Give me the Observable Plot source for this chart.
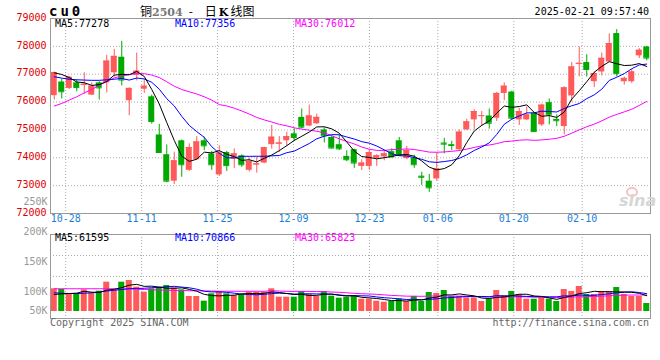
<!DOCTYPE html>
<html><head><meta charset="utf-8">
<script src="https://cdn.jsdelivr.net/npm/d3@7"></script>
<script src="https://cdn.jsdelivr.net/npm/@observablehq/plot@0.6"></script>
<style>
body{margin:0;background:#fff}
#root{position:relative;width:660px;height:360px;background:#fff;overflow:hidden}
.t{position:absolute;white-space:pre;font-family:"DejaVu Sans Mono",monospace;font-size:10px;line-height:12px}
svg{position:absolute;left:0}
</style></head>
<body><div id="root"></div>
<script>
// ---- data ----
const dates = ["10-24","10-25","10-28","10-29","10-30","10-31","11-01","11-04","11-05","11-06","11-07","11-08","11-11","11-12","11-13","11-14","11-15","11-18","11-19","11-20","11-21","11-22","11-25","11-26","11-27","11-28","11-29","12-02","12-03","12-04","12-05","12-06","12-09","12-10","12-11","12-12","12-13","12-16","12-17","12-18","12-19","12-20","12-23","12-24","12-25","12-26","12-27","12-30","12-31","01-02","01-03","01-06","01-07","01-08","01-09","01-10","01-13","01-14","01-15","01-16","01-17","01-20","01-21","01-22","01-23","01-24","01-27","02-05","02-06","02-07","02-10","02-11","02-12","02-13","02-14","02-17","02-18","02-19","02-20","02-21"];
const tickDates = ["10-28","11-11","11-25","12-09","12-23","01-06","01-20","02-10"];
const opens = [76230,76720,76490,76690,76600,76250,76690,76690,77050,77610,76050,76960,76460,76190,74820,74110,73160,74610,73550,73930,74610,74140,73390,74190,73950,74070,73550,73740,73810,74470,74490,74610,74860,75450,75140,75220,75000,74730,74470,74050,74290,73690,73690,73980,74030,74220,74610,73970,73990,73340,73160,73240,74530,74470,74290,75000,75360,75490,75500,75420,76310,76360,75360,75360,75600,75180,75980,75380,75120,76220,77360,77420,76730,77080,77440,78460,76730,76730,77660,77980];
const highs = [77080,76820,76920,76790,77050,76690,76730,77680,77890,78180,76510,77760,76810,76250,75200,74460,74200,74640,74500,74760,74740,74230,74430,74230,74320,74100,73990,74010,74380,75160,74760,74920,75040,75750,75890,75570,75080,74790,74810,74250,74310,73930,74290,74110,74240,74320,74730,74410,74090,73480,73400,74170,74700,74590,75000,75380,75720,75660,75750,76350,76690,76390,75780,75830,75620,75930,76110,75540,76550,77420,77980,77700,77080,77760,78450,78600,76900,77170,77920,78000];
const lows = [76070,76110,76450,76370,76280,76230,76070,76330,76900,76580,75510,76760,76310,75210,74170,73100,73040,73300,73510,73910,74260,73550,73330,73510,73610,73660,73490,73450,73790,74310,74190,74410,74590,75040,75120,75200,74530,74310,74260,73860,73620,73540,73550,73690,73890,74000,74070,73930,73620,73010,72760,73160,74140,74260,74260,74990,75000,75120,75030,75300,76050,75360,75160,75330,74910,75120,75180,75120,74820,76010,76900,76900,76520,76940,77420,76900,76610,76670,77560,77480];
const closes = [77060,76370,76890,76520,76640,76570,76510,77470,77640,76790,76490,77110,76570,75300,74190,73160,73890,73750,74370,74570,74430,73750,74170,73720,74140,73750,73870,73780,74360,74740,74530,74760,74730,75100,75500,75450,74790,74350,74320,73930,73810,73810,74190,74070,74140,74030,74090,74260,73750,73300,72920,73600,74490,74440,74920,75290,75660,75510,75240,76310,76570,75420,75660,75540,74940,75890,75540,75330,76510,77260,77390,77170,77020,77570,78100,77020,76850,77080,77860,77580];
const volumes = [90700,88000,70700,68000,86700,73300,81300,117300,86700,117300,124000,97300,77300,90700,97300,104000,94700,86700,60000,60000,41300,70700,80000,70700,64000,68000,77300,77300,77300,90700,57300,57300,57300,80000,68000,60000,80000,61300,53300,57300,62700,49300,49300,41300,37300,40000,50700,40000,60000,40000,76000,72000,84000,60000,60000,54700,54700,40000,49300,84000,64000,80000,68000,49300,49300,54700,49300,40000,88000,80000,100000,68000,68000,80000,80000,96000,68000,60000,60000,32000];
// moving-average values before enough visible history exists
const ma5Head = [77050,76990,76880,76720];
const ma10Head = [76910,76860,76820,76800,76790,76780,76780,76800,76820];
const ma30Head = [75860,75950,76070,76190,76330,76450,76610,76730,76870,76930,76990,77020,77020,76970,76880,76730,76570,76450,76370,76290,76190,76070,75910,75860,75780,75680,75570,75450,75360];
const vma5Head = [68000,70700,72000,73300];
const vma10Head = [75000,73000,72000,72000,73000,75000,78000,82000,85000];
const vma30Head = [91000,91000,91000,91000,91000,91000,91000,91000,91000,90000,90000,89000,88000,87000,86000,85000,84000,84000,83000,83000,82000,82000,81000,81000,81000,81000,81000,81000,81000];
const priceTicks = [79000,78000,77000,76000,75000,74000,73000,72000];
const volTickValues = [250000,200000,150000,100000];
const volTickLabels = ["250K","200K","150K","100K"];
const volBottomValue = [50000];
const volBottomLabel = ["50K"];
const headerMain = [["MA5:77278","#000"],["MA10:77356","#0000ff"],["MA30:76012","#ff00ff"]];
const headerVol = [["MA5:61595","#000"],["MA10:70866","#0000ff"],["MA30:65823","#ff00ff"]];

// ---- derived ----
const N = closes.length;
function ma(vals, k, head){ return vals.map((v,i)=> i>=k-1 ? d3.mean(vals.slice(i-k+1,i+1)) : head[i]); }
const m5 = ma(closes,5,ma5Head), m10 = ma(closes,10,ma10Head), m30 = ma(closes,30,ma30Head);
const v5 = ma(volumes,5,vma5Head), v10 = ma(volumes,10,vma10Head), v30 = ma(volumes,30,vma30Head);
const data = closes.map((c,i)=>({i, date:dates[i], open:opens[i], high:highs[i], low:lows[i], close:c, vol:volumes[i],
  up:c>=opens[i], m5:m5[i], m10:m10[i], m30:m30[i], v5:v5[i], v10:v10[i], v30:v30[i]}));
// Sina spaces its date grid over N-1 intervals while candles use N slots
const grid = tickDates.map(t=>{const k=dates.indexOf(t); return {x:k*N/(N-1)-0.5, label:t};});

const UP="#ff5a5a", DOWN="#00a800", GRID="#aaa", FRAME="#999";
const MONO="DejaVu Sans Mono";
const col = d=>d.up?UP:DOWN;
const root = document.getElementById("root");

const price = Plot.plot({
  width:660, height:228, marginTop:18, marginBottom:15, marginLeft:50, marginRight:10,
  style:{background:"transparent", overflow:"visible"},
  x:{domain:[-0.5,N-0.5], axis:null},
  y:{domain:[72000,79000], axis:null},
  marks:[
    Plot.ruleY(priceTicks.slice(1,-1), {stroke:GRID, strokeDasharray:"1,2"}),
    Plot.ruleX(grid, {x:"x", stroke:GRID, strokeDasharray:"1,2"}),
    Plot.ruleX(data, {x:"i", y1:"low", y2:"high", stroke:col}),
    Plot.rect(data, {x1:d=>d.i-0.4, x2:d=>d.i+0.4, y1:"open", y2:"close", fill:col}),
    Plot.ruleY(data, {x1:d=>d.i-0.4, x2:d=>d.i+0.4, y:"close", stroke:col}),
    Plot.line(data, {x:"i", y:"m30", stroke:"#ff00ff", strokeWidth:1}),
    Plot.line(data, {x:"i", y:"m10", stroke:"#0000ff", strokeWidth:1}),
    Plot.line(data, {x:"i", y:"m5", stroke:"#000", strokeWidth:1}),
    Plot.frame({stroke:FRAME}),
    Plot.text(priceTicks, {y:d=>d, text:d=>String(d), frameAnchor:"left", textAnchor:"end", dx:-4, dy:-1, fill:"#dd0000", fontSize:10, fontFamily:MONO}),
    Plot.text(grid, {x:"x", text:"label", frameAnchor:"bottom", dy:8, fill:"#1c7fd6", fontSize:10, fontFamily:MONO})
  ]
});
price.style.top="0px";
root.appendChild(price);

const volume = Plot.plot({
  width:660, height:92, marginTop:6, marginBottom:2, marginLeft:50, marginRight:10,
  style:{background:"transparent", overflow:"visible"},
  x:{domain:[-0.5,N-0.5], axis:null},
  y:{domain:[-28000,308000], axis:null},
  marks:[
    Plot.ruleY([224000,140000], {stroke:GRID, strokeDasharray:"1,2"}),
    Plot.ruleX(grid, {x:"x", stroke:GRID, strokeDasharray:"1,2"}),
    Plot.rect(data, {x1:d=>d.i-0.4, x2:d=>d.i+0.4, y1:0, y2:"vol", fill:col}),
    Plot.line(data, {x:"i", y:"v30", stroke:"#ff00ff", strokeWidth:1}),
    Plot.line(data, {x:"i", y:"v10", stroke:"#0000ff", strokeWidth:1}),
    Plot.line(data, {x:"i", y:"v5", stroke:"#000", strokeWidth:1}),
    Plot.frame({stroke:FRAME})
  ]
});
volume.style.top="228px";
root.appendChild(volume);

// Sina's volume labels follow their own even spacing; the lowest one is lifted to stay inside the panel
const volAxis = Plot.plot({
  width:50, height:330, margin:0,
  style:{background:"transparent", overflow:"visible"},
  y:{domain:[0,250000], range:[351,201], axis:null},
  marks:[
    Plot.text(volTickValues, {y:d=>d, text:(d,i)=>volTickLabels[i], frameAnchor:"right", textAnchor:"end", dx:-3, fill:"#999", fontSize:10, fontFamily:MONO}),
    Plot.text(volBottomValue, {y:d=>d, text:(d,i)=>volBottomLabel[i], frameAnchor:"right", textAnchor:"end", dx:-3, dy:-11, fill:"#999", fontSize:10, fontFamily:MONO})
  ]
});
volAxis.style.top="0px";
root.appendChild(volAxis);

function label(txt, css){ const d=document.createElement("div"); d.className="t"; d.textContent=txt; Object.assign(d.style, css); root.appendChild(d); return d; }
label("cu0", {left:"49px", top:"5px", fontSize:"14px", lineHeight:"13px", fontWeight:"bold", letterSpacing:"3px"});
const title = label("", {left:"140px", top:"4px", fontSize:"12px", lineHeight:"14px", fontFamily:"'Noto Sans CJK SC',sans-serif"});
title.innerHTML = '铜<span style="color:#777;font-weight:bold;font-family:\'DejaVu Serif\',serif;font-size:11px">2504</span><span style="margin-left:6px">-</span><span style="margin-left:12px">日</span><span style="font-weight:bold;font-family:\'DejaVu Serif\',serif;font-size:11px;margin-left:2px">K</span><span style="margin-left:2px">线图</span>';
label("2025-02-21 09:57:40", {right:"11px", top:"6px"});
const xs=[55,175,295];
headerMain.forEach(([t,c],k)=>label(t,{left:xs[k]+"px", top:"18px", color:c}));
headerVol.forEach(([t,c],k)=>label(t,{left:xs[k]+"px", top:"232px", color:c}));
label("Copyright 2025 SINA.COM", {left:"50px", top:"317px", color:"#666"});
label("http://finance.sina.com.cn", {right:"11px", top:"317px", color:"#666"});
label("sina", {left:"619px", top:"192px", fontSize:"16px", lineHeight:"18px", fontStyle:"italic", fontWeight:"bold", color:"#d6d6d6", fontFamily:"'DejaVu Sans',sans-serif"});
const eye=document.createElement("div");
Object.assign(eye.style,{position:"absolute", left:"626px", top:"187px", width:"8px", height:"6px", border:"2px solid #f2c4c4", borderRadius:"50%"});
root.appendChild(eye);
</script></body></html>
